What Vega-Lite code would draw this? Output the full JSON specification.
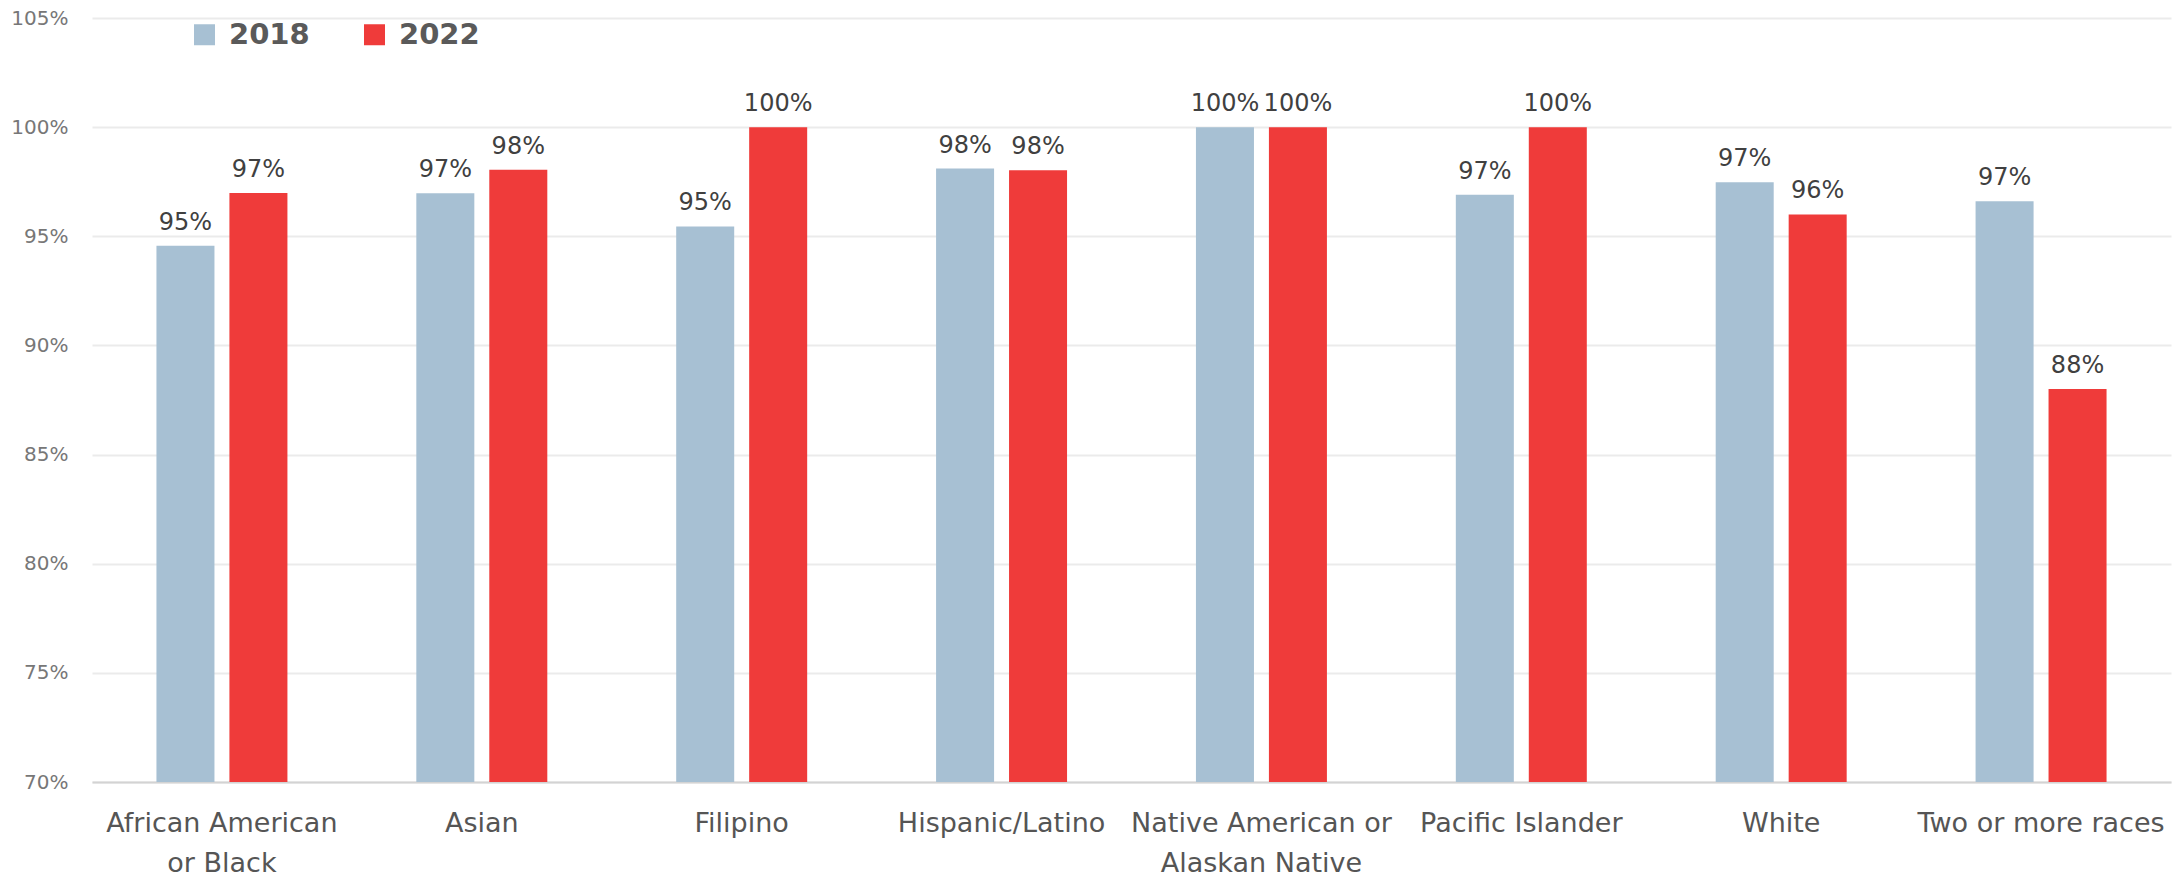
{
  "$schema": "https://vega.github.io/schema/vega-lite/v6.json",
  "width": 2079,
  "height": 764,
  "autosize": "none",
  "padding": {"left": 92, "top": 18, "right": 11, "bottom": 98},
  "background": "white",
  "config": {
    "font": "DejaVu Sans",
    "view": {"stroke": null}
  },
  "data": {
    "values": [
      {"group": "African American or Black", "year": "2018", "rate": 0.9457},
      {"group": "African American or Black", "year": "2022", "rate": 0.9698},
      {"group": "Asian", "year": "2018", "rate": 0.9697},
      {"group": "Asian", "year": "2022", "rate": 0.9805},
      {"group": "Filipino", "year": "2018", "rate": 0.9545},
      {"group": "Filipino", "year": "2022", "rate": 1.0},
      {"group": "Hispanic/Latino", "year": "2018", "rate": 0.981},
      {"group": "Hispanic/Latino", "year": "2022", "rate": 0.9802},
      {"group": "Native American or Alaskan Native", "year": "2018", "rate": 1.0},
      {"group": "Native American or Alaskan Native", "year": "2022", "rate": 1.0},
      {"group": "Pacific Islander", "year": "2018", "rate": 0.969},
      {"group": "Pacific Islander", "year": "2022", "rate": 1.0},
      {"group": "White", "year": "2018", "rate": 0.9747},
      {"group": "White", "year": "2022", "rate": 0.96},
      {"group": "Two or more races", "year": "2018", "rate": 0.966},
      {"group": "Two or more races", "year": "2022", "rate": 0.88}
    ]
  },
  "encoding": {
    "x": {
      "field": "group",
      "type": "nominal",
      "sort": null,
      "title": null,
      "scale": {"paddingInner": 0.496, "paddingOuter": 0.248},
      "axis": {
        "labelAngle": 0,
        "labelFontSize": 27,
        "labelColor": "#555555",
        "labelPadding": 28,
        "labelLineHeight": 40,
        "labelBaseline": "top",
        "labelLimit": 0,
        "labelOverlap": false,
        "ticks": false,
        "domainColor": "#d3d3d3",
        "domainWidth": 2,
        "grid": false,
        "labelExpr": "datum.label == 'African American or Black' ? ['African American', 'or Black'] : datum.label == 'Native American or Alaskan Native' ? ['Native American or', 'Alaskan Native'] : datum.label"
      }
    },
    "xOffset": {
      "field": "year",
      "type": "nominal",
      "scale": {"paddingInner": 0.205, "paddingOuter": 0}
    },
    "y": {
      "field": "rate",
      "type": "quantitative",
      "title": null,
      "scale": {"domain": [0.7, 1.05], "nice": false, "zero": false},
      "axis": {
        "format": ".0%",
        "values": [0.7, 0.75, 0.8, 0.85, 0.9, 0.95, 1.0, 1.05],
        "labelFontSize": 20,
        "labelColor": "#777777",
        "labelPadding": 24,
        "ticks": false,
        "domain": false,
        "gridColor": "#ebebeb",
        "gridWidth": 2
      }
    }
  },
  "layer": [
    {
      "mark": {"type": "bar", "clip": true},
      "encoding": {
        "color": {
          "field": "year",
          "type": "nominal",
          "title": null,
          "scale": {"domain": ["2018", "2022"], "range": ["#a7c0d3", "#ef3b3a"]},
          "legend": {
            "orient": "none",
            "legendX": 98,
            "legendY": 2,
            "direction": "horizontal",
            "symbolType": "square",
            "symbolSize": 441,
            "symbolStrokeWidth": 0,
            "labelFontSize": 29,
            "labelFontWeight": "bold",
            "labelColor": "#5a5a5a",
            "labelOffset": 10,
            "columnPadding": 50
          }
        }
      }
    },
    {
      "mark": {"type": "text", "baseline": "alphabetic", "dy": -16, "fontSize": 24, "color": "#404040"},
      "encoding": {
        "text": {"field": "rate", "type": "quantitative", "format": ".0%"}
      }
    }
  ]
}
